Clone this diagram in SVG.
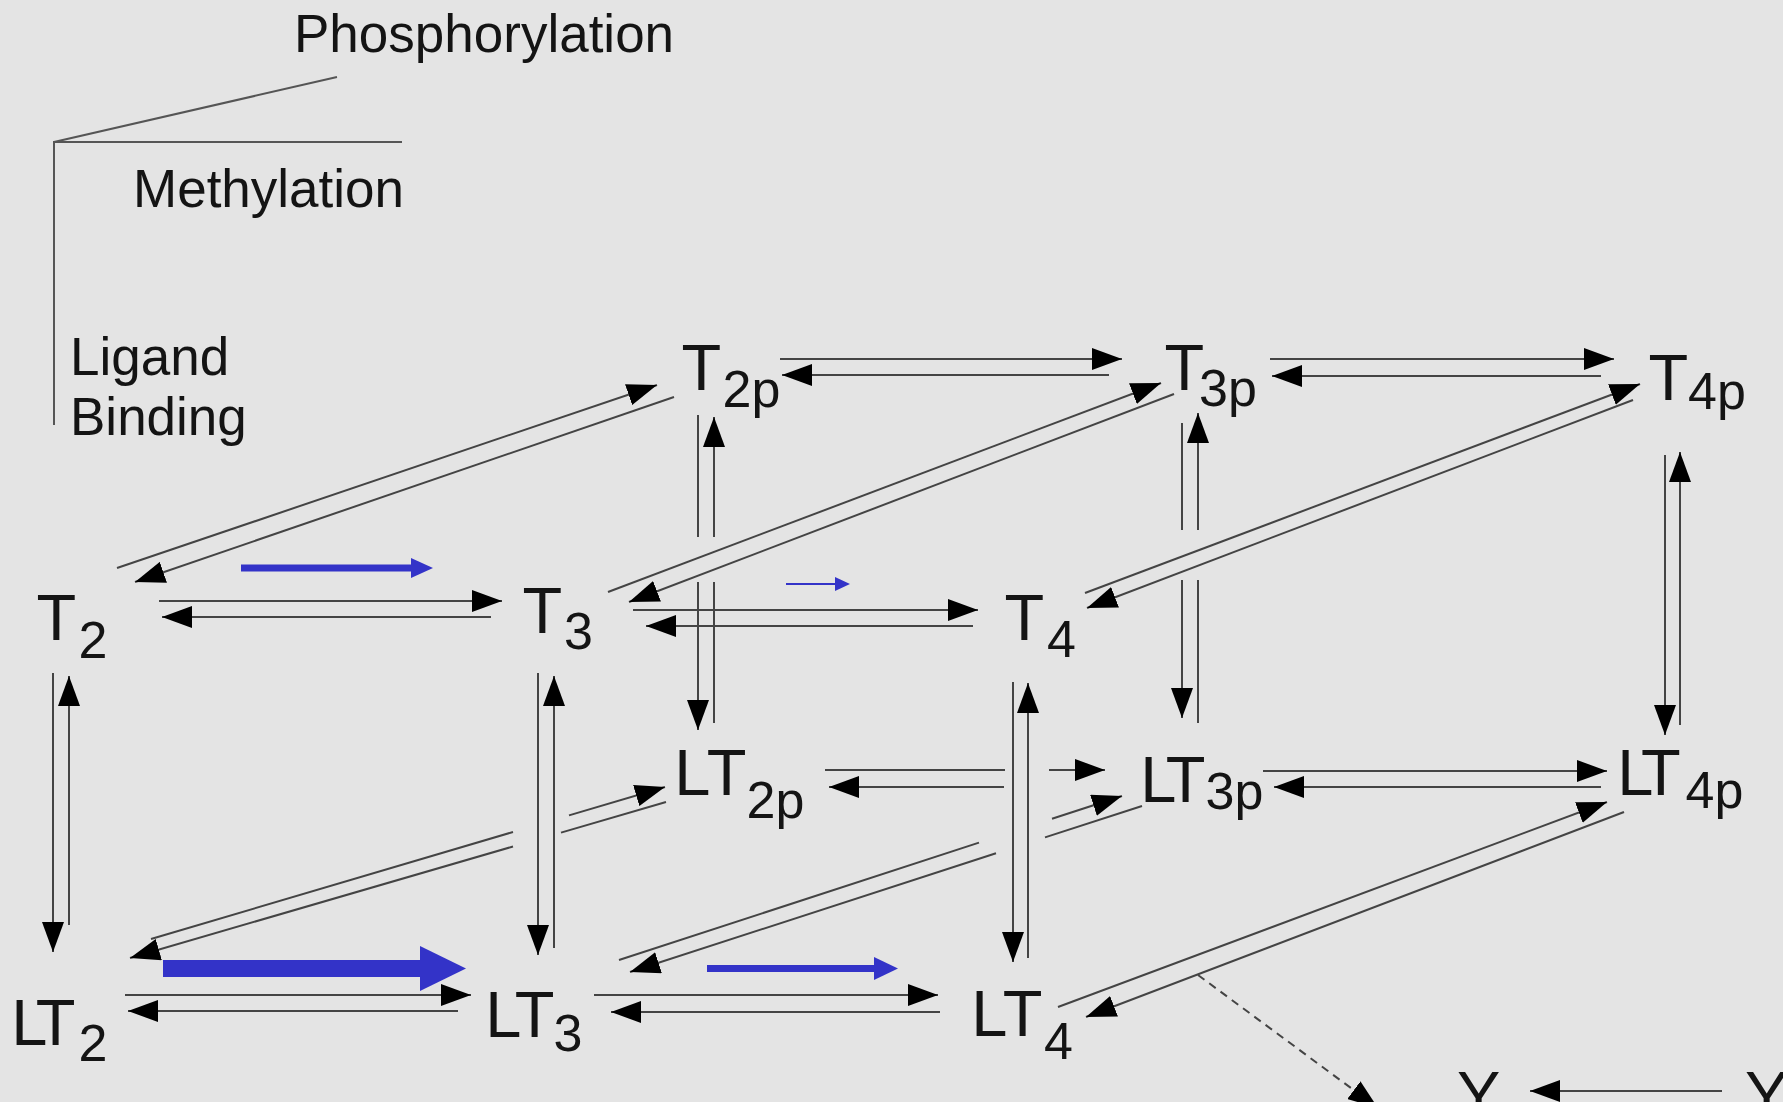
<svg xmlns="http://www.w3.org/2000/svg" width="1783" height="1102" viewBox="0 0 1783 1102">
<defs>
<style>
text{font-family:"Liberation Sans",Arial,Helvetica,sans-serif;fill:#141414}
.m{font-size:65px}
.s{font-size:52px}
.lab{font-size:53px}
.c{fill:none;stroke:#444;stroke-width:2;marker-end:url(#ah)}
.axis{fill:none;stroke:#555;stroke-width:2}
.blue{fill:#3333c8}
.bl{stroke:#3333c8;fill:none}
</style>
<marker id="ah" viewBox="0 0 30 22" refX="30" refY="11" markerWidth="30" markerHeight="22" markerUnits="userSpaceOnUse" orient="auto">
<path d="M0,0 L30,11 L0,22 Z" fill="#000"/>
</marker>
</defs>
<rect width="1783" height="1102" fill="#e4e4e4"/>

<g id="axes">
<path class="axis" d="M54,425 L54,142 L402,142 M54,142 L337,77"/>
<text class="lab" x="294" y="52">Phosphorylation</text>
<text class="lab" x="133" y="207">Methylation</text>
<text class="lab" x="70" y="375">Ligand</text>
<text class="lab" x="70" y="435">Binding</text>
</g>

<g id="connectors">
<path class="c" d="M159,601 L502,601"/>
<path class="c" d="M491,617 L162,617"/>
<path class="c" d="M633,610 L978,610"/>
<path class="c" d="M973,626 L646,626"/>
<path class="c" d="M780,359 L1122,359"/>
<path class="c" d="M1109,375 L782,375"/>
<path class="c" d="M1270,359 L1614,359"/>
<path class="c" d="M1601,376 L1272,376"/>
<path class="c" d="M825,770 L1005,770 M1049,770 L1105,770"/>
<path class="c" d="M1004,787 L829,787"/>
<path class="c" d="M1263,771 L1607,771"/>
<path class="c" d="M1601,787 L1274,787"/>
<path class="c" d="M125,995 L471,995"/>
<path class="c" d="M458,1011 L128,1011"/>
<path class="c" d="M594,995 L938,995"/>
<path class="c" d="M940,1012 L611,1012"/>
<path class="c" d="M1722,1091 L1530,1091"/>
<path class="c" d="M53,673 L53,952"/>
<path class="c" d="M69,925 L69,676"/>
<path class="c" d="M538,673 L538,955"/>
<path class="c" d="M554,948 L554,676"/>
<path class="c" d="M1013,682 L1013,962"/>
<path class="c" d="M1028,958 L1028,683"/>
<path class="c" d="M698,415 L698,537 M698,582 L698,730"/>
<path class="c" d="M714,723 L714,582 M714,537 L714,417"/>
<path class="c" d="M1182,423 L1182,530 M1182,580 L1182,718"/>
<path class="c" d="M1198,723 L1198,580 M1198,530 L1198,413"/>
<path class="c" d="M1665,455 L1665,735"/>
<path class="c" d="M1680,725 L1680,452"/>
<path class="c" d="M117,568 L657,385"/>
<path class="c" d="M674,397 L135,582"/>
<path class="c" d="M608,592 L1161,383"/>
<path class="c" d="M1174,394 L629,602"/>
<path class="c" d="M1085,593 L1640,384"/>
<path class="c" d="M1633,400 L1087,608"/>
<path class="c" d="M151,939 L513,832 M569,815.4 L665,787"/>
<path class="c" d="M666,802 L561,832.6 M513,846.5 L130,958"/>
<path class="c" d="M619,960 L979,842.6 M1052,818.8 L1122,796"/>
<path class="c" d="M1142,806 L1045,837.4 M996,853.3 L630,972"/>
<path class="c" d="M1058,1007 L1607,802"/>
<path class="c" d="M1624,812 L1086,1017"/>
<path class="c" d="M1198,975 L1378,1108" stroke-dasharray="8 6" stroke-width="1.5"/>
<path class="bl" d="M241,568 L412,568" stroke-width="7"/>
<polygon class="blue" points="411,558 433,568 411,578"/>
<path class="bl" d="M786,584 L836,584" stroke-width="2"/>
<polygon class="blue" points="835,577 850,584 835,591"/>
<rect class="blue" x="163" y="960" width="258" height="17"/>
<polygon class="blue" points="420,946 466,968.5 420,991"/>
<path class="bl" d="M707,968.5 L875,968.5" stroke-width="7"/>
<polygon class="blue" points="874,957 898,968.5 874,980"/>
</g>

<g id="T2"><text class="m" x="36.6" y="640">T<tspan class="s" x="78.5" y="658">2</tspan></text></g>
<g id="T3"><text class="m" x="522.6" y="633">T<tspan class="s" x="564" y="649">3</tspan></text></g>
<g id="T4"><text class="m" x="1004.6" y="640">T<tspan class="s" x="1047" y="657">4</tspan></text></g>
<g id="T2p"><text class="m" x="681.6" y="390">T<tspan class="s" x="722.5" y="407">2p</tspan></text></g>
<g id="T3p"><text class="m" x="1164.6" y="390">T<tspan class="s" x="1199" y="406">3p</tspan></text></g>
<g id="T4p"><text class="m" x="1648.6" y="400">T<tspan class="s" x="1688" y="409">4p</tspan></text></g>
<g id="LT2"><text class="m" y="1045"><tspan x="11.3">L</tspan><tspan x="35.7">T</tspan><tspan class="s" x="78.5" y="1061">2</tspan></text></g>
<g id="LT3"><text class="m" y="1037"><tspan x="485.3">L</tspan><tspan x="514.7">T</tspan><tspan class="s" x="553.5" y="1051">3</tspan></text></g>
<g id="LT4"><text class="m" y="1036"><tspan x="971.3">L</tspan><tspan x="1002.7">T</tspan><tspan class="s" x="1044" y="1059">4</tspan></text></g>
<g id="LT2p"><text class="m" y="795"><tspan x="674.3">L</tspan><tspan x="706.7">T</tspan><tspan class="s" x="746.5" y="818">2p</tspan></text></g>
<g id="LT3p"><text class="m" y="802"><tspan x="1140.3">L</tspan><tspan x="1165.7">T</tspan><tspan class="s" x="1205.5" y="809">3p</tspan></text></g>
<g id="LT4p"><text class="m" y="795"><tspan x="1617.3">L</tspan><tspan x="1641">T</tspan><tspan class="s" x="1685.5" y="808">4p</tspan></text></g>
<g id="Y1"><text class="m" x="1457" y="1117">Y</text></g>
<g id="Y2"><text class="m" x="1745" y="1117">Y</text></g>
</svg>
